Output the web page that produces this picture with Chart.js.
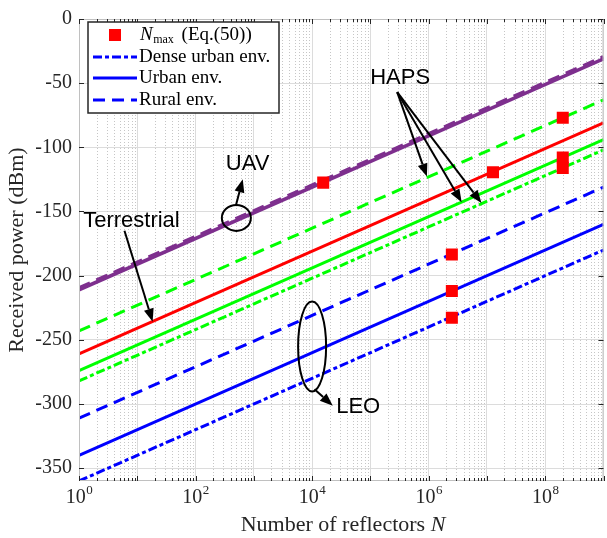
<!DOCTYPE html>
<html>
<head>
<meta charset="utf-8">
<title>Received power vs number of reflectors</title>
<script src="https://cdn.jsdelivr.net/npm/chart.js@4.4.1/dist/chart.umd.min.js"></script>
<style>
html, body { margin: 0; padding: 0; background: #fff; overflow: hidden; }
#wrap { width: 612px; height: 538px; }
</style>
</head>
<body>
<div id="wrap"><canvas id="myCanvas"></canvas></div>
<script>
// line end points, read at N = 1 and N = 1e9
var nEnds = [1, 1e9];
var uavUrban = [-211, -31];
var uavRural = [-209.5, -29.5];
var hapsRural = [-243, -63];
var terrestrial = [-261, -81];
var hapsUrban = [-274, -94];
var hapsDense = [-282, -102];
var leoRural = [-311, -131];
var leoUrban = [-340, -160];
var leoDense = [-360, -180];

// N_max markers (Eq.(50))
var nMaxN = [1.55e4, 1.27e7, 2.0e8, 2.0e8, 2.0e8, 2.5e6, 2.5e6, 2.5e6];
var nMaxP = [-127.5, -119.4, -77, -108, -116, -183.5, -212, -232.8];

var xTickPowers = [0, 2, 4, 6, 8];
var yTicks = [0, -50, -100, -150, -200, -250, -300, -350];

var serif = '"Liberation Serif", "Times New Roman", serif';
var sans = '"Liberation Sans", Arial, sans-serif';
var dashed = [12, 7];
var dashDot = [9, 3, 4, 3];

// annotations, placed in data coordinates (log10 N, dBm)
var labels = [
    { text: 'UAV', lg: 2.892, p: -113.3 },
    { text: 'Terrestrial', lg: 0.90, p: -157.3 },
    { text: 'HAPS', lg: 5.51, p: -46.3 },
    { text: 'LEO', lg: 4.79, p: -302.2 }
];
var arrows = [
    [2.69, -145.7, 2.81, -124.9],
    [0.78, -165, 1.264, -235.9],
    [5.46, -57, 5.97, -122.8],
    [5.46, -57, 6.566, -142.8],
    [5.46, -57, 6.906, -143.4],
    [4.04, -288.5, 4.355, -301.4]
];
var ellipses = [
    { lg: 2.70, p: -155, rx: 14.5, ry: 13 },
    { lg: 4.0, p: -255.2, rx: 14, ry: 45 }
];

function toPoints(ys) {
    return nEnds.map(function (n, i) { return { x: n, y: ys[i] }; });
}

function lineSet(ys, color, dash, width) {
    return {
        type: 'line',
        data: toPoints(ys),
        borderColor: color,
        borderWidth: width || 3,
        borderDash: dash || [],
        pointRadius: 0,
        fill: false,
        order: 1
    };
}

function drawArrow(ctx, x1, y1, x2, y2) {
    var ang = Math.atan2(y2 - y1, x2 - x1);
    var hl = 13, hw = 5;
    var bx = x2 - hl * Math.cos(ang), by = y2 - hl * Math.sin(ang);
    ctx.beginPath();
    ctx.moveTo(x1, y1);
    ctx.lineTo(bx, by);
    ctx.stroke();
    ctx.beginPath();
    ctx.moveTo(x2, y2);
    ctx.lineTo(bx + hw * Math.sin(ang), by - hw * Math.cos(ang));
    ctx.lineTo(bx - hw * Math.sin(ang), by + hw * Math.cos(ang));
    ctx.closePath();
    ctx.fill();
}

var decor = {
    id: 'decor',
    beforeDatasetsDraw: function (chart) {
        var ctx = chart.ctx, a = chart.chartArea, xs = chart.scales.x;
        ctx.save();
        ctx.strokeStyle = '#c6c6c6';
        ctx.lineWidth = 1;
        ctx.setLineDash([1, 2]);
        for (var d = 0; d < 9; d++) {
            for (var m = 2; m <= 9; m++) {
                var px = Math.round(xs.getPixelForValue(m * Math.pow(10, d))) + 0.5;
                ctx.beginPath();
                ctx.moveTo(px, a.top);
                ctx.lineTo(px, a.bottom);
                ctx.stroke();
            }
        }
        ctx.restore();
    },
    afterDatasetsDraw: function (chart) {
        var ctx = chart.ctx, a = chart.chartArea;
        var xs = chart.scales.x, ys = chart.scales.y;
        var i, d, m, px, py;
        ctx.save();

        // box
        ctx.strokeStyle = '#c0c0c0';
        ctx.lineWidth = 1;
        ctx.strokeRect(a.left + 0.5, a.top + 0.5, a.right - a.left - 1, a.bottom - a.top - 1);

        // inward ticks
        ctx.strokeStyle = '#262626';
        for (d = 0; d <= 9; d++) {
            for (m = 1; m <= 9; m++) {
                if (d === 9 && m > 1) break;
                var len = m === 1 ? 5 : 3;
                px = Math.round(xs.getPixelForValue(m * Math.pow(10, d))) + 0.5;
                ctx.beginPath();
                ctx.moveTo(px, a.bottom);
                ctx.lineTo(px, a.bottom - len);
                ctx.moveTo(px, a.top);
                ctx.lineTo(px, a.top + len);
                ctx.stroke();
            }
        }
        yTicks.forEach(function (v) {
            py = Math.round(ys.getPixelForValue(v)) + 0.5;
            ctx.beginPath();
            ctx.moveTo(a.left, py);
            ctx.lineTo(a.left + 5, py);
            ctx.moveTo(a.right, py);
            ctx.lineTo(a.right - 5, py);
            ctx.stroke();
        });

        // x tick labels 10^k
        ctx.fillStyle = '#262626';
        ctx.textBaseline = 'alphabetic';
        ctx.textAlign = 'left';
        xTickPowers.forEach(function (p) {
            px = xs.getPixelForValue(Math.pow(10, p));
            ctx.font = '20px ' + serif;
            var w1 = ctx.measureText('10').width;
            ctx.font = '13px ' + serif;
            var w2 = ctx.measureText(String(p)).width;
            var x0 = px - (w1 + w2) / 2;
            ctx.font = '20px ' + serif;
            ctx.fillText('10', x0, 503);
            ctx.font = '13px ' + serif;
            ctx.fillText(String(p), x0 + w1 + 0.5, 494);
        });

        // x title
        ctx.font = '22px ' + serif;
        var t1 = 'Number of reflectors ';
        var tw1 = ctx.measureText(t1).width;
        ctx.font = 'italic 22px ' + serif;
        var tw2 = ctx.measureText('N').width;
        var tx = 343 - (tw1 + tw2) / 2;
        ctx.font = '22px ' + serif;
        ctx.fillText(t1, tx, 531);
        ctx.font = 'italic 22px ' + serif;
        ctx.fillText('N', tx + tw1, 531);

        // legend
        var lx = 88, ly = 22, lw = 191, lh = 91;
        ctx.fillStyle = '#fff';
        ctx.fillRect(lx, ly, lw, lh);
        ctx.strokeStyle = '#262626';
        ctx.lineWidth = 1.5;
        ctx.strokeRect(lx, ly, lw, lh);
        var rows = [35, 57, 78, 100];
        ctx.fillStyle = '#ff0000';
        ctx.fillRect(109, rows[0] - 6, 12, 12);
        var legLines = [dashDot, [], dashed];
        ctx.strokeStyle = '#0000ff';
        ctx.lineWidth = 3;
        for (i = 0; i < 3; i++) {
            ctx.setLineDash(legLines[i]);
            ctx.beginPath();
            ctx.moveTo(93, rows[i + 1]);
            ctx.lineTo(137, rows[i + 1]);
            ctx.stroke();
        }
        ctx.setLineDash([]);
        ctx.fillStyle = '#000';
        ctx.textBaseline = 'middle';
        ctx.font = 'italic 19px ' + serif;
        ctx.fillText('N', 140, rows[0]);
        var nx = 140 + ctx.measureText('N').width;
        ctx.font = '12px ' + serif;
        ctx.fillText('max', nx + 0.5, rows[0] + 5);
        nx += ctx.measureText('max').width + 0.5;
        ctx.font = '19px ' + serif;
        ctx.fillText(' (Eq.(50))', nx + 3, rows[0]);
        ctx.fillText('Dense urban env.', 139, rows[1]);
        ctx.fillText('Urban env.', 139, rows[2]);
        ctx.fillText('Rural env.', 139, rows[3]);

        // annotations
        ctx.strokeStyle = '#000';
        ctx.fillStyle = '#000';
        ctx.lineWidth = 2;
        ellipses.forEach(function (e) {
            ctx.beginPath();
            ctx.ellipse(xs.getPixelForValue(Math.pow(10, e.lg)), ys.getPixelForValue(e.p), e.rx, e.ry, 0, 0, Math.PI * 2);
            ctx.stroke();
        });
        arrows.forEach(function (r) {
            drawArrow(ctx,
                xs.getPixelForValue(Math.pow(10, r[0])), ys.getPixelForValue(r[1]),
                xs.getPixelForValue(Math.pow(10, r[2])), ys.getPixelForValue(r[3]));
        });
        ctx.font = '22px ' + sans;
        ctx.textAlign = 'center';
        ctx.textBaseline = 'middle';
        labels.forEach(function (l) {
            ctx.fillText(l.text, xs.getPixelForValue(Math.pow(10, l.lg)), ys.getPixelForValue(l.p));
        });
        ctx.restore();
    }
};

var ctx = document.getElementById('myCanvas').getContext('2d');
var chart = new Chart(ctx, {
    type: 'line',
    data: {
        datasets: [
            {
                type: 'scatter',
                data: nMaxN.map(function (n, i) { return { x: n, y: nMaxP[i] }; }),
                backgroundColor: '#ff0000',
                borderColor: '#ff0000',
                borderWidth: 0,
                pointStyle: 'rect',
                pointRadius: 8.5,
                order: 0
            },
            lineSet(uavUrban, '#7e2f8e', [], 3.5),
            lineSet(uavRural, '#7e2f8e', dashed, 3.5),
            lineSet(hapsRural, '#00ff00', dashed),
            lineSet(terrestrial, '#ff0000', []),
            lineSet(hapsUrban, '#00ff00', []),
            lineSet(hapsDense, '#00ff00', dashDot),
            lineSet(leoRural, '#0000ff', dashed),
            lineSet(leoUrban, '#0000ff', []),
            lineSet(leoDense, '#0000ff', dashDot)
        ]
    },
    options: {
        responsive: true,
        maintainAspectRatio: false,
        animation: false,
        layout: { padding: { top: 14, right: 4, bottom: 0, left: 0 } },
        plugins: { legend: { display: false }, tooltip: { enabled: false } },
        scales: {
            x: {
                type: 'logarithmic',
                min: 1,
                max: 1e9,
                afterBuildTicks: function (s) {
                    var t = [];
                    for (var p = 0; p <= 9; p++) t.push({ value: Math.pow(10, p) });
                    s.ticks = t;
                },
                afterFit: function (s) { s.height = 57; },
                ticks: { display: false },
                grid: { color: '#dcdcdc', drawTicks: false },
                border: { display: false }
            },
            y: {
                min: -360,
                max: 0,
                afterBuildTicks: function (s) {
                    s.ticks = yTicks.map(function (v) { return { value: v }; });
                },
                afterFit: function (s) { s.width = 79; },
                ticks: {
                    font: { family: serif, size: 20 },
                    color: '#262626',
                    padding: 7,
                    callback: function (v) { return String(v); }
                },
                grid: { color: '#dcdcdc', drawTicks: false },
                border: { display: false },
                title: {
                    display: true,
                    text: 'Received power (dBm)',
                    font: { family: serif, size: 22 },
                    color: '#262626',
                    padding: { top: 4, bottom: 0 }
                }
            }
        }
    },
    plugins: [decor]
});
</script>
</body>
</html>
